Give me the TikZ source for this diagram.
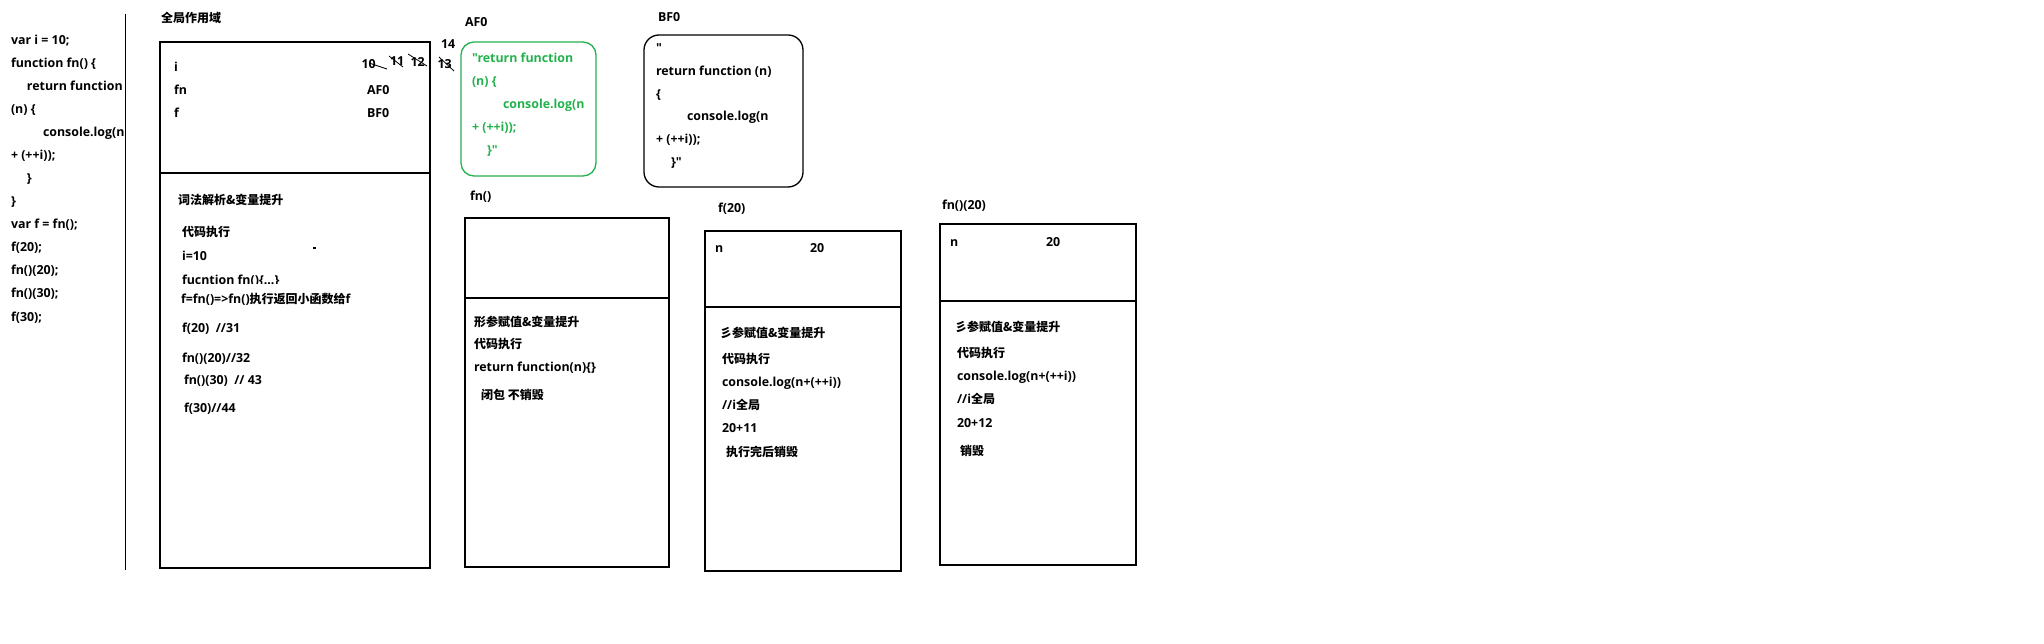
\documentclass[tikz,border=0pt]{standalone}
\usepackage{fontspec}
\newfontfamily\lat{Open Sans}
\newfontfamily\zhfont{Noto Sans CJK SC}
\newcommand\zh[1]{{\zhfont\fontsize{12}{14}\selectfont #1}}
\definecolor{pgreen}{HTML}{22B14C}
\begin{document}
\begin{tikzpicture}[x=1pt,y=-1pt,
  t/.style={anchor=base west,inner sep=0pt,outer sep=0pt,font=\lat\bfseries\fontsize{12.4}{15}\selectfont},
  gt/.style={t,text=pgreen},
  box/.style={draw,line width=1.3pt,anchor=north west,inner sep=0pt,outer sep=0pt},
  rbox/.style={box,rounded corners=14pt},
  divider/.style={line width=1.3pt},
  strike/.style={line width=0.8pt}]
\useasboundingbox (0,0) rectangle (2044,644);
% code column
\begin{scope}
\clip (0,0) rectangle (124.5,644);
\node[t] (c0) at (11,45) {var i = 10;};
\node[t] (c1) at (11,68) {function fn() \{};
\node[t] (c2) at (27,91) {return function};
\node[t] (c3) at (11,114) {(n) \{};
\node[t] (c4) at (43,137) {console.log(n + (++i));};
\node[t] (c5) at (11,160) {+ (++i));};
\node[t] (c6) at (27,183) {\}};
\node[t] (c7) at (11,206) {\}};
\node[t] (c8) at (11,229) {var f = fn();};
\node[t] (c9) at (11,252) {f(20);};
\node[t] (c10) at (11,275) {fn()(20);};
\node[t] (c11) at (11,298) {fn()(30);};
\node[t] (c12) at (11,321) {f(30);};
\end{scope}
\coordinate (vtop) at (125.5,14);
\coordinate (vbot) at (125.5,570);
\draw[line width=1.5pt] (vtop) -- (vbot);

% global scope
\node[t] (gtitle) at (161,23) {\zh{全局作用域}};
\node[box,minimum width=270pt,minimum height=526pt] (gbox) at (160,42) {};
\draw[divider] (gbox.west |- 0,173) -- (gbox.east |- 0,173);
\node[t] (gi) at (174,72) {i};
\node[t] (gfn) at (174,95) {fn};
\node[t] (gf) at (174,118) {f};
\node[t] (v10) at (361.5,69) {10};
\node[t] (v11) at (390,66) {11};
\node[t] (v12) at (410.5,67) {12};
\node[t] (v13) at (437.5,69) {13};
\node[t] (v14) at (441,49) {14};
\draw[strike] (369,63) -- (387,69);
\draw[strike] (389,56) -- (403,67);
\draw[strike] (408,54) -- (427,66);
\draw[strike] (439,57) -- (454,71);
\node[t] (vaf) at (367,95) {AF0};
\node[t] (vbf) at (367,118) {BF0};
\node[t] (g1) at (178,205) {\zh{词法解析\&变量提升}};
\node[t] (g2) at (182,237) {\zh{代码执行}};
\node[t] (g3) at (182,261) {i=10};
\fill (313,247.5) rectangle (316,249);
\begin{scope}
\clip (160,268) rectangle (430,283);
\node[t] (g4) at (182,284) {fucntion fn()\{...\}};
\end{scope}
\node[t] (g5) at (181,303) {f=fn()=>fn()\zh{执行返回小函数给}f};
\node[t] (g6) at (182,332) {f(20)\ \ //31};
\node[t] (g7) at (182,362) {fn()(20)//32};
\node[t] (g8) at (184,384) {fn()(30)\ \ // 43};
\node[t] (g9) at (184,412) {f(30)//44};

% AF0 heap
\node[t] (aftitle) at (465,27) {AF0};
\node[rbox,draw=pgreen,rounded corners=13pt,minimum width=135pt,minimum height=134pt] (afbox) at (461,42) {};
\node[gt] (a1) at (472,63) {"return function};
\node[gt] (a2) at (472,86) {(n) \{};
\node[gt] (a3) at (503,108.5) {console.log(n};
\node[gt] (a4) at (472,131.5) {+ (++i));};
\node[gt] (a5) at (487,154.5) {\}"};

% BF0 heap
\node[t] (bftitle) at (658,22) {BF0};
\node[rbox,rounded corners=15pt,minimum width=159pt,minimum height=152pt] (bfbox) at (644,35) {};
\node[t] (b0) at (656,53) {"};
\node[t] (b1) at (656,75.5) {return function (n)};
\node[t] (b2) at (656,98.5) {\{};
\node[t] (b3) at (687,121) {console.log(n};
\node[t] (b4) at (656,144) {+ (++i));};
\node[t] (b5) at (671,166.5) {\}"};

% fn()
\node[t] (fntitle) at (470,201) {fn()};
\node[box,minimum width=204pt,minimum height=349pt] (fnbox) at (465,218) {};
\draw[divider] (fnbox.west |- 0,298) -- (fnbox.east |- 0,298);
\node[t] (fn1) at (474,326) {\zh{形参赋值\&变量提升}};
\node[t] (fn2) at (474,348) {\zh{代码执行}};
\node[t] (fn3) at (474,371) {return function(n)\{\}};
\node[t] (fn4) at (481,399) {\zh{闭包 不销毁}};

% f(20)
\node[t] (ftitle) at (718,213) {f(20)};
\node[box,minimum width=196pt,minimum height=340pt] (fbox) at (705,231) {};
\draw[divider] (fbox.west |- 0,307) -- (fbox.east |- 0,307);
\node[t] (fn) at (715,253) {n};
\node[t] (fv) at (810,253) {20};
\node[t] (f1) at (720,337) {\zh{彡参赋值\&变量提升}};
\node[t] (f2) at (722,363) {\zh{代码执行}};
\node[t] (f3) at (722,386) {console.log(n+(++i))};
\node[t] (f4) at (722,409) {//i\zh{全局}};
\node[t] (f5) at (722,432) {20+11};
\node[t] (f6) at (726,456) {\zh{执行完后销毁}};

% fn()(20)
\node[t] (hhtitle) at (942,210) {fn()(20)};
\node[box,minimum width=196pt,minimum height=341pt] (hbox) at (940,224) {};
\draw[divider] (hbox.west |- 0,301) -- (hbox.east |- 0,301);
\node[t] (hn) at (950,247) {n};
\node[t] (hv) at (1046,247) {20};
\node[t] (h1) at (955,331) {\zh{彡参赋值\&变量提升}};
\node[t] (h2) at (957,357) {\zh{代码执行}};
\node[t] (h3) at (957,380) {console.log(n+(++i))};
\node[t] (h4) at (957,403) {//i\zh{全局}};
\node[t] (h5) at (957,427) {20+12};
\node[t] (h6) at (960,455) {\zh{销毁}};
\end{tikzpicture}
\end{document}
